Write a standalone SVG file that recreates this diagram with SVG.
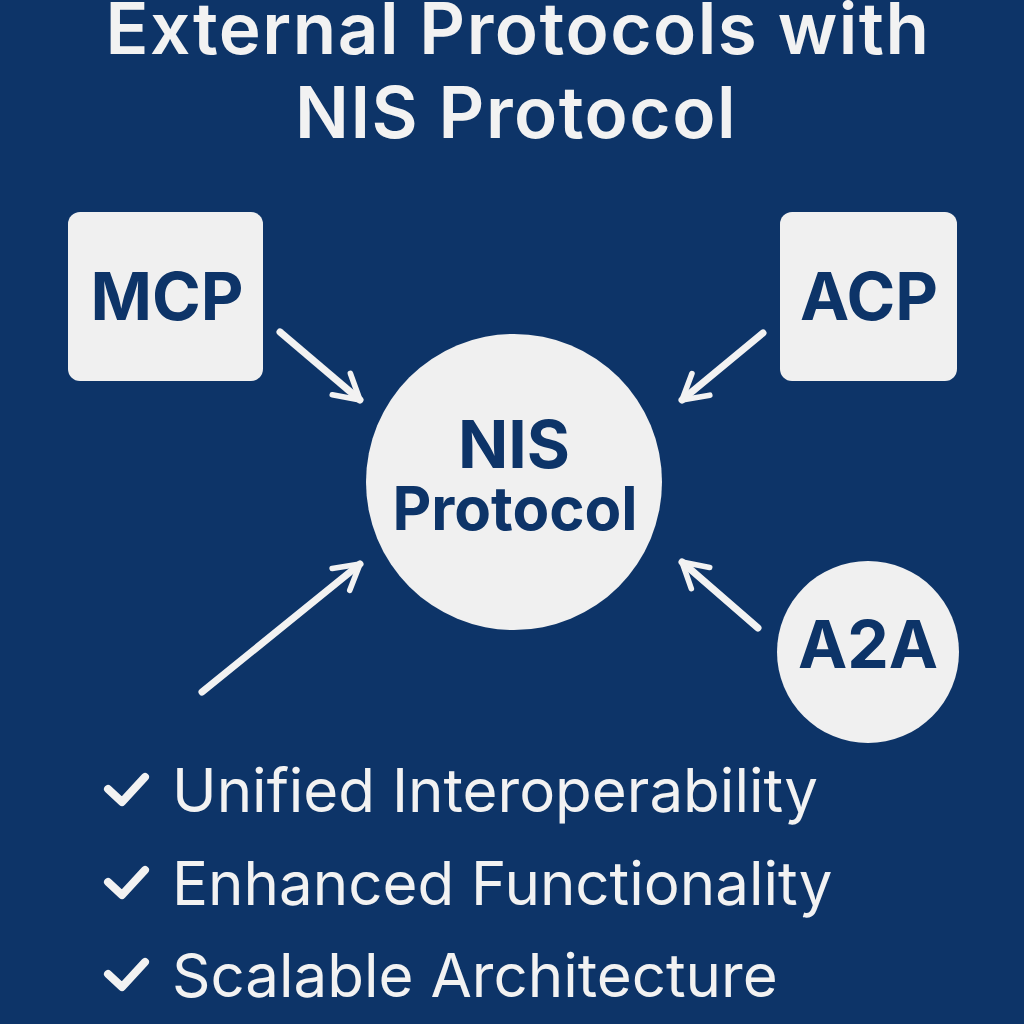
<svg xmlns="http://www.w3.org/2000/svg" width="1024" height="1024" viewBox="0 0 1024 1024">
<defs>
<style>
.title{font-family:Inter,"Noto Sans","DejaVu Sans",sans-serif;font-weight:600;font-size:71px;letter-spacing:1.5px;fill:#f2f2f2;text-anchor:middle}
.node{fill:#f0f0f0}
.lbl{font-family:Inter,"Noto Sans","DejaVu Sans",sans-serif;font-weight:700;font-size:66px;fill:#0d3468;text-anchor:middle}
.lbl2{font-size:60px}
.conn{stroke:#f2f2f2;stroke-width:7;fill:none;stroke-linecap:round;stroke-linejoin:round}
.item{font-family:Inter,"Noto Sans","DejaVu Sans",sans-serif;font-weight:400;font-size:60px;fill:#f2f2f2}
.check{stroke:#f2f2f2;stroke-width:8;fill:none;stroke-linecap:round;stroke-linejoin:round}
</style>
<marker id="ah" viewBox="0 0 10 10" refX="8" refY="5" markerWidth="5" markerHeight="5" orient="auto" markerUnits="strokeWidth">
<path d="M1,1 L8,5 L1,9" fill="none" stroke="#f2f2f2" stroke-width="1.6" stroke-linecap="round" stroke-linejoin="round"/>
</marker>
</defs>
<rect width="1024" height="1024" fill="#0d3468"/>
<g id="title">
<text class="title" x="518" y="54">External Protocols with</text>
<text class="title" x="516" y="138">NIS Protocol</text>
</g>
<g id="mcp">
<rect class="node" x="68" y="212" width="195" height="169" rx="12"/>
<text class="lbl" x="167" y="320">MCP</text>
</g>
<g id="acp">
<rect class="node" x="780" y="212" width="177" height="169" rx="12"/>
<text class="lbl" x="869" y="320">ACP</text>
</g>
<g id="nis">
<circle class="node" cx="514" cy="482" r="148"/>
<text class="lbl" x="514" y="468">NIS</text>
<text class="lbl lbl2" x="515" y="530">Protocol</text>
</g>
<g id="a2a">
<circle class="node" cx="868" cy="652" r="91"/>
<text class="lbl" x="868" y="668">A2A</text>
</g>
<g id="connectors">
<path class="conn" d="M280,332 L360,400" marker-end="url(#ah)"/>
<path class="conn" d="M763,333 L682,400" marker-end="url(#ah)"/>
<path class="conn" d="M202,692 L360,564" marker-end="url(#ah)"/>
<path class="conn" d="M758,628 L682,562" marker-end="url(#ah)"/>
</g>
<g id="benefits">
<polyline class="check" points="108,789 122,802 145,777"/>
<text class="item" x="172" y="812">Unified Interoperability</text>
<polyline class="check" points="108,882 122,895 145,870"/>
<text class="item" x="172" y="905">Enhanced Functionality</text>
<polyline class="check" points="108,974 122,987 145,962"/>
<text class="item" x="172" y="997">Scalable Architecture</text>
</g>
</svg>
